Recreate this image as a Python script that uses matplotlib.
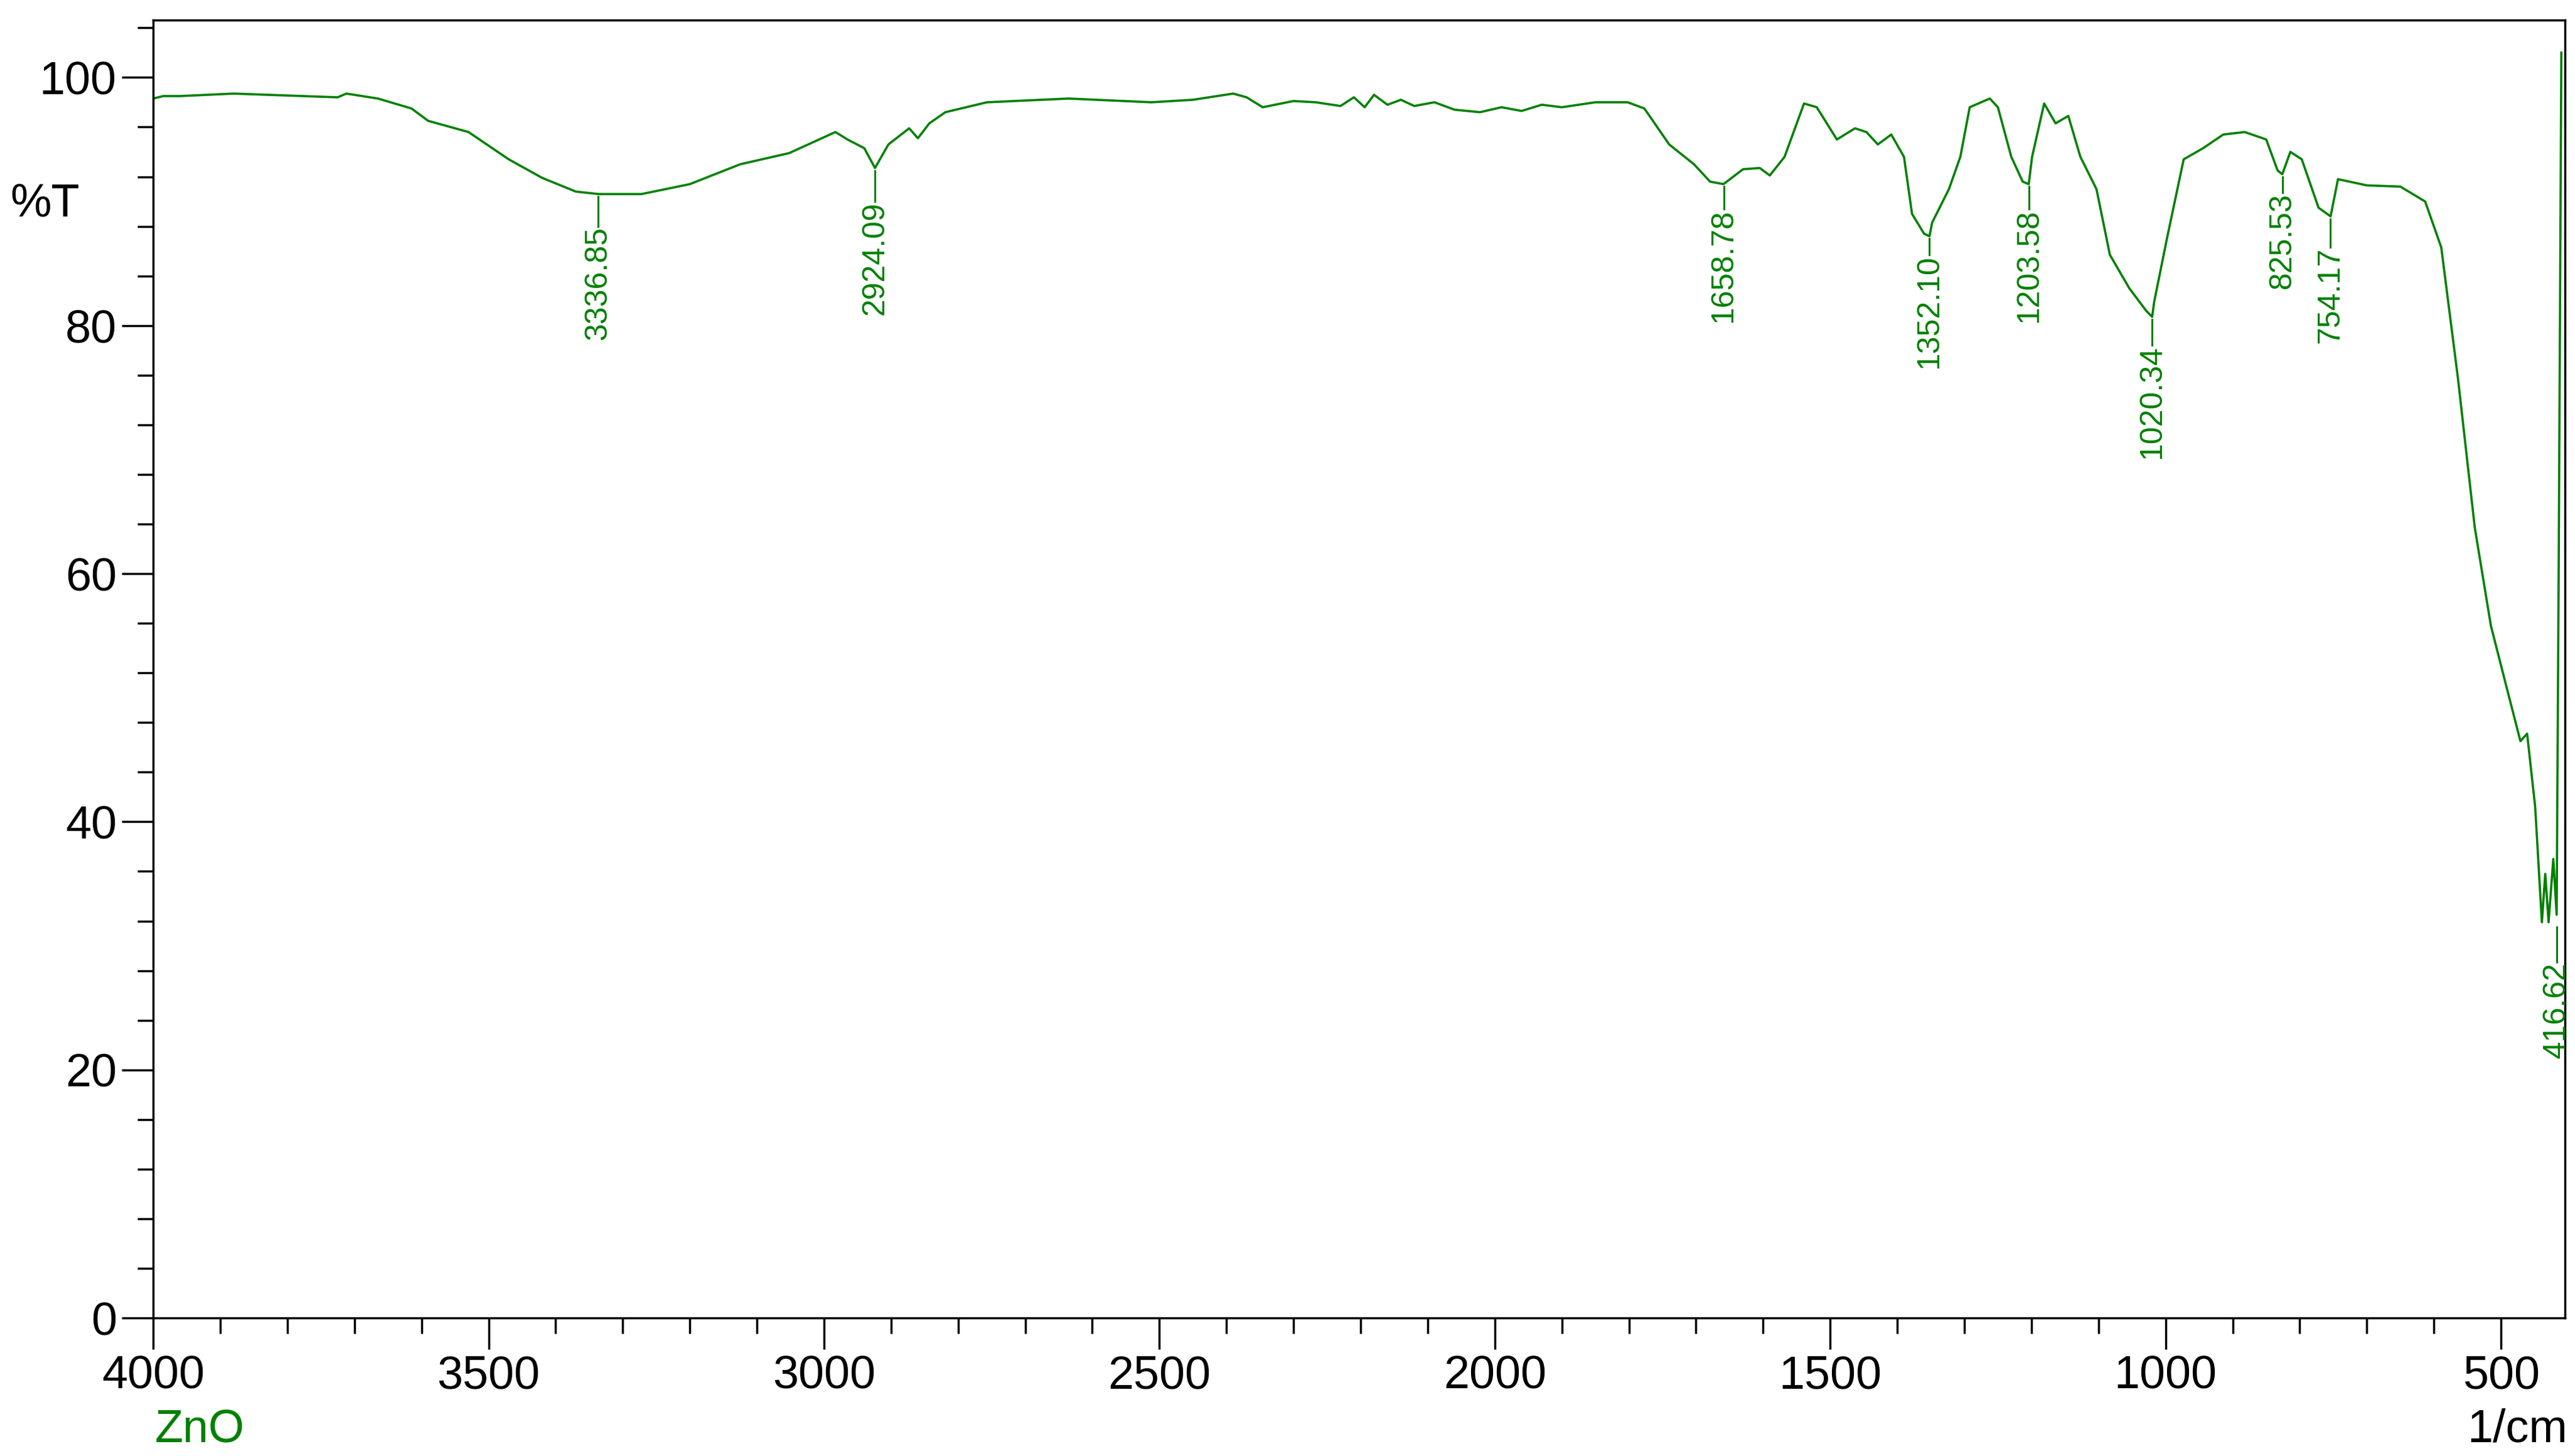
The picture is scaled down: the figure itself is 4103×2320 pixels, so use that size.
import matplotlib
matplotlib.use("Agg")
import matplotlib.pyplot as plt
from matplotlib.ticker import MultipleLocator

plt.rcParams['font.family'] = ['Liberation Sans', 'DejaVu Sans']

wavenumber = [4000, 3985, 3960, 3880, 3725, 3712, 3665, 3615, 3590, 3530, 3470, 3420, 3370, 3336, 3272,
              3200, 3125, 3052, 2983, 2965, 2940, 2924, 2904, 2873, 2860, 2843, 2819, 2757, 2635, 2512,
              2450, 2390, 2370, 2346, 2300, 2267, 2230, 2210, 2194, 2180, 2160, 2140, 2120, 2090, 2060, 2022,
              1990, 1960, 1930, 1900, 1850, 1802, 1777, 1740, 1703, 1679, 1659, 1630, 1605, 1590,
              1568, 1539, 1520, 1490, 1463, 1446, 1429, 1409, 1390, 1378, 1360, 1352, 1348, 1323, 1306,
              1292, 1262, 1250, 1230, 1213, 1204, 1199, 1181, 1164, 1145, 1127, 1103, 1083, 1054,
              1029, 1020, 1017, 998, 973, 944, 914, 882, 850, 833, 826, 814, 797, 772, 754, 743, 700, 650,
              613, 589, 564, 539, 515, 490, 471, 461, 449, 439, 434, 429, 422, 417, 414, 410]
transmittance = [98.3, 98.5, 98.5, 98.7, 98.4, 98.7, 98.3, 97.5, 96.5, 95.6, 93.4, 91.9, 90.8, 90.6, 90.6,
                 91.4, 93.0, 93.9, 95.6, 95.0, 94.3, 92.7, 94.6, 95.9, 95.1, 96.3, 97.2, 98.0, 98.3, 98.0,
                 98.2, 98.7, 98.4, 97.6, 98.1, 98.0, 97.7, 98.4, 97.6, 98.6, 97.8, 98.2, 97.7, 98.0, 97.4, 97.2,
                 97.6, 97.3, 97.8, 97.6, 98.0, 98.0, 97.5, 94.6, 93.0, 91.6, 91.4, 92.6, 92.7, 92.1,
                 93.6, 97.9, 97.6, 95.0, 95.9, 95.6, 94.6, 95.4, 93.6, 89.0, 87.4, 87.2, 88.3, 91.0, 93.6,
                 97.6, 98.3, 97.6, 93.6, 91.6, 91.4, 93.6, 97.9, 96.3, 96.9, 93.6, 91.0, 85.7, 83.0,
                 81.2, 80.7, 81.9, 87.0, 93.4, 94.3, 95.4, 95.6, 95.0, 92.5, 92.2, 94.0, 93.4, 89.5, 88.8, 91.8, 91.3, 91.2,
                 90.0, 86.3, 75.7, 63.7, 55.8, 50.5, 46.5, 47.1, 41.2, 31.9, 35.8, 31.9, 37.0, 32.5, 60.0, 102.0]

peak_labels = ["3336.85", "2924.09", "1658.78", "1352.10", "1203.58", "1020.34", "825.53", "754.17", "416.62"]
peak_pos = [3336.85, 2924.09, 1658.78, 1352.10, 1203.58, 1020.34, 825.53, 754.17, 416.62]
peak_line_top = [90.4, 92.5, 91.2, 87.0, 91.2, 80.5, 92.0, 88.6, 31.5]
peak_text_top = [89.3, 91.3, 90.7, 87.0, 90.7, 79.7, 92.0, 87.6, 30.0]

green = '#008000'
fig = plt.figure(figsize=(41.03, 23.2), dpi=100)
ax = fig.add_axes([0.0595, 0.0948, 0.9365, 0.8912])
ax.plot(wavenumber, transmittance, color=green, lw=2.6)
ax.set_xlim(4000, 405)
ax.set_ylim(0, 104.6)
ax.xaxis.set_major_locator(MultipleLocator(500))
ax.xaxis.set_minor_locator(MultipleLocator(100))
ax.yaxis.set_major_locator(MultipleLocator(20))
ax.yaxis.set_minor_locator(MultipleLocator(4))
ax.tick_params(which='major', direction='out', length=36, width=2.5, labelsize=53, pad=6)
ax.tick_params(which='minor', direction='out', length=18, width=2.5)
for s in ax.spines.values():
    s.set_linewidth(2.5)

for lab, x, lt, tt in zip(peak_labels, peak_pos, peak_line_top, peak_text_top):
    ax.plot([x, x], [lt, tt - 1.3], color=green, lw=2.2)
    ax.text(x, tt - 1.3, lab, rotation=90, ha='center', va='top', color=green, fontsize=36)

fig.text(0.004, 0.86, "%T", fontsize=53, ha='left', va='center')
fig.text(0.06, 0.018, "ZnO", fontsize=53, ha='left', va='center', color=green)
fig.text(0.997, 0.018, "1/cm", fontsize=53, ha='right', va='center')
fig.savefig("out.png", dpi=100)
